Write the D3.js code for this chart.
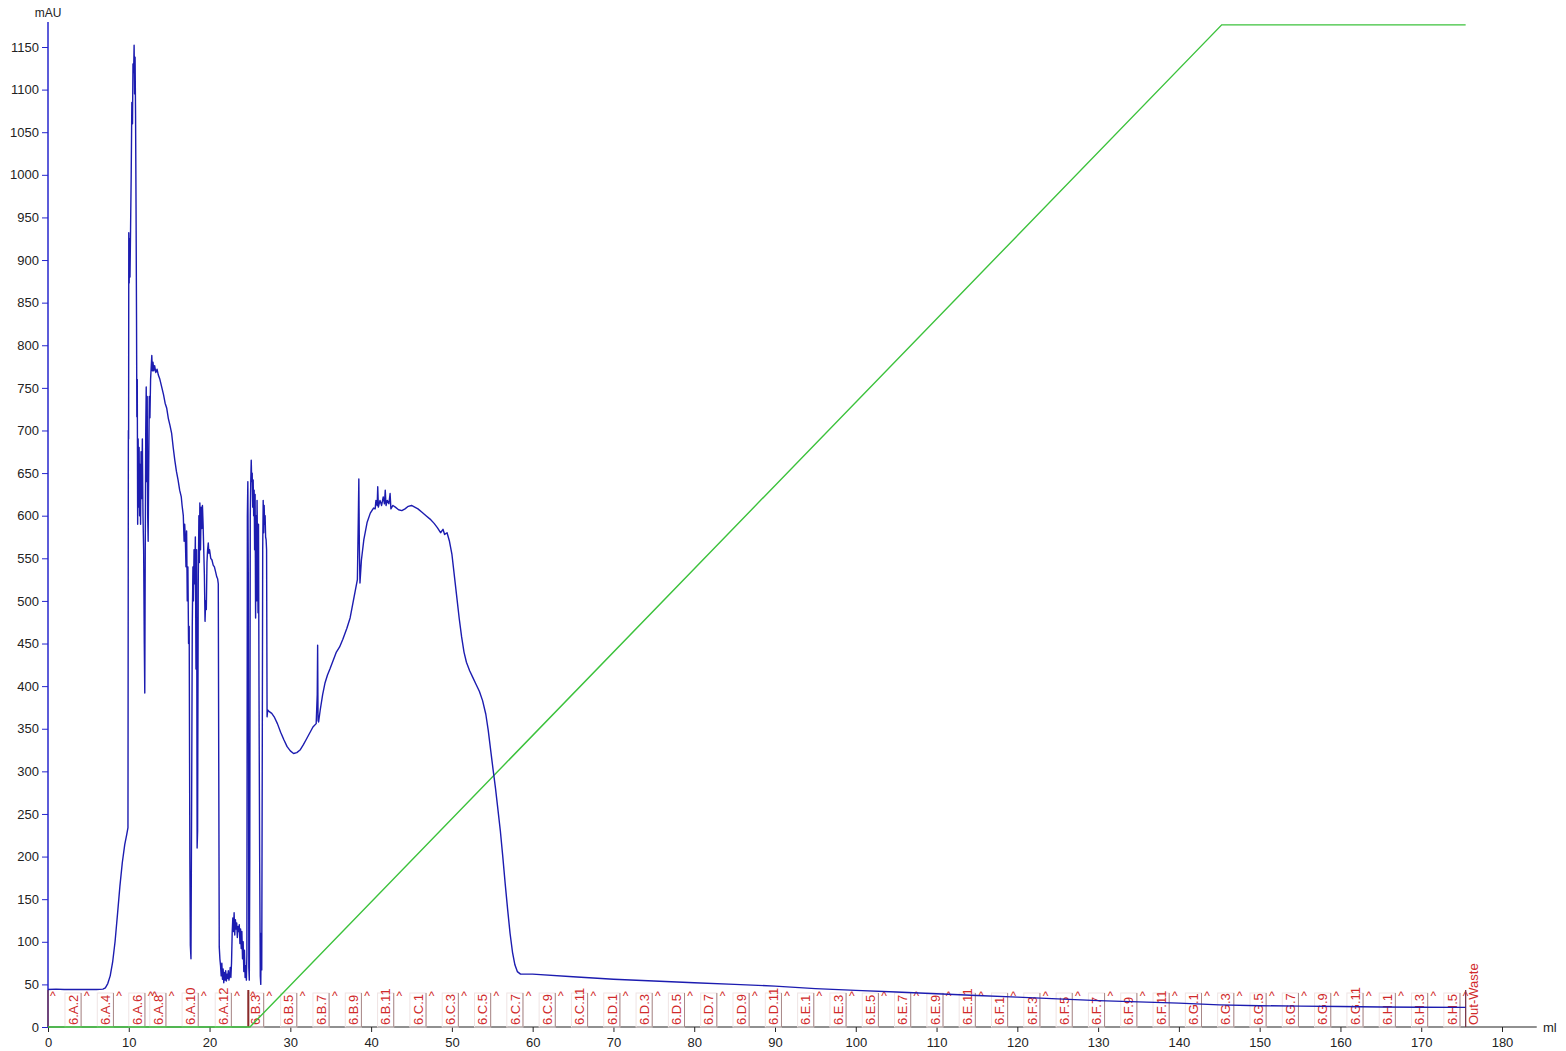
<!DOCTYPE html>
<html><head><meta charset="utf-8">
<script src="https://cdn.jsdelivr.net/npm/d3@7"></script>
<style>
body{margin:0;background:#fff;}
svg text{font-family:"Liberation Sans",Arial,sans-serif;}
</style>
</head><body>
<svg id="chart" width="1566" height="1051"></svg>
<script>
// ---- data ----
const uvTrace = [
[0,44],[1,44.5],[2,44],[3,44],[4,44],[5,44],[6,44],[6.8,44.5],[7.1,46],[7.4,51],[7.7,60],[8.0,76],[8.3,100],[8.6,132],[8.9,165],[9.2,193],[9.5,214],[9.75,226],[9.9,234],
[9.95,700],[9.98,690],[10.0,932],[10.05,873],[10.1,925],[10.15,880],[10.22,935],[10.3,1000],[10.38,1085],[10.46,1060],[10.52,1130],[10.6,1120],[10.66,1152],[10.72,1095],[10.78,1138],[10.84,1070],[10.9,960],[10.96,830],[11.0,716],[11.05,760],[11.1,590],[11.16,690],[11.22,610],[11.28,680],[11.34,600],[11.4,660],[11.46,590],[11.52,675],[11.6,620],[11.68,690],[11.76,600],[11.84,560],[11.92,450],[11.98,392],[12.04,560],[12.1,700],[12.16,751],[12.22,640],[12.28,740],[12.34,600],[12.4,570],[12.47,660],[12.54,740],[12.62,715],[12.7,760],[12.78,775],[12.85,788],[12.92,770],[13.0,780],[13.1,770],[13.2,776],[13.35,768],[13.5,772],[13.66,765],[13.85,760],[14.05,752],[14.3,742],[14.5,732],[14.7,726],[14.9,714],[15.1,706],[15.3,697],[15.5,680],[15.7,665],[15.9,652],[16.1,642],[16.3,630],[16.5,622],[16.6,612],[16.75,600],[16.85,570],[16.92,590],[17.0,575],[17.08,540],[17.16,582],[17.24,500],[17.32,540],[17.4,450],[17.48,470],[17.56,200],[17.62,96],[17.7,80],[17.78,260],[17.86,470],[17.94,540],[18.0,500],[18.08,560],[18.16,520],[18.24,575],[18.32,420],[18.4,560],[18.46,210],[18.52,230],[18.6,520],[18.68,600],[18.74,545],[18.8,615],[18.88,560],[18.96,610],[19.04,585],[19.12,612],[19.2,590],[19.28,560],[19.36,530],[19.44,476],[19.52,500],[19.6,490],[19.68,545],[19.76,560],[19.84,568],[19.92,556],[20.0,560],[20.15,550],[20.3,548],[20.45,542],[20.6,540],[20.75,534],[20.9,528],[21.0,526],[21.08,520],[21.14,300],[21.2,94],[21.28,80],[21.36,72],[21.44,60],[21.52,75],[21.6,56],[21.68,68],[21.76,52],[21.84,64],[21.92,55],[22.0,66],[22.08,54],[22.16,62],[22.24,57],[22.32,66],[22.4,55],[22.48,60],[22.56,70],[22.64,58],[22.72,75],[22.8,110],[22.88,128],[22.96,112],[23.04,134],[23.12,108],[23.2,126],[23.28,115],[23.36,122],[23.44,105],[23.52,118],[23.6,112],[23.68,120],[23.76,98],[23.84,115],[23.92,92],[24.0,112],[24.08,80],[24.16,100],[24.24,65],[24.32,90],[24.4,58],[24.5,72],[24.56,55],[24.62,85],[24.68,600],[24.74,640],[24.8,520],[24.86,70],[24.92,55],[24.98,200],[25.04,600],[25.1,640],[25.16,665],[25.22,640],[25.28,650],[25.34,610],[25.4,642],[25.46,600],[25.52,630],[25.58,560],[25.64,625],[25.7,480],[25.76,600],[25.82,500],[25.88,618],[25.94,560],[26.0,486],[26.06,590],[26.12,400],[26.2,200],[26.28,60],[26.34,50],[26.4,110],[26.46,67],[26.52,300],[26.58,560],[26.64,618],[26.7,580],[26.76,612],[26.82,590],[26.88,600],[26.94,575],[27.0,572],[27.06,560],[27.12,364],[27.2,372],[27.4,370],[27.7,368],[28.0,364],[28.4,356],[28.8,346],[29.2,337],[29.6,329],[30.0,324],[30.4,321],[30.8,322],[31.2,325],[31.6,331],[32.0,338],[32.4,345],[32.8,352],[33.2,356],[33.33,390],[33.38,448],[33.43,360],[33.5,358],[33.7,372],[34.0,390],[34.3,404],[34.6,413],[34.9,420],[35.3,430],[35.7,440],[36.1,446],[36.5,455],[37.0,468],[37.4,480],[37.8,500],[38.1,515],[38.3,525],[38.42,600],[38.48,643],[38.55,560],[38.62,521],[38.8,548],[39.1,572],[39.5,592],[39.9,603],[40.3,609],[40.5,608],[40.6,618],[40.75,612],[40.82,634],[40.9,610],[41.1,618],[41.3,612],[41.5,622],[41.65,614],[41.75,630],[41.85,612],[42.0,618],[42.2,614],[42.35,626],[42.45,608],[42.7,612],[43.0,610],[43.4,607],[43.8,606],[44.2,608],[44.6,611],[45.0,612],[45.4,610],[45.8,608],[46.3,604],[46.8,600],[47.3,596],[47.8,591],[48.2,586],[48.6,580],[48.9,584],[49.1,578],[49.4,580],[49.7,570],[50.0,555],[50.3,530],[50.6,505],[50.9,480],[51.2,458],[51.5,440],[51.8,428],[52.2,418],[52.6,410],[53.0,402],[53.4,394],[53.8,383],[54.2,367],[54.5,348],[54.8,325],[55.1,302],[55.4,280],[55.7,255],[56.0,230],[56.3,200],[56.6,168],[56.9,138],[57.2,110],[57.5,88],[57.8,73],[58.1,65],[58.5,62],[59.0,62],[60.0,62],[65,59],[70,56],[75,54],[80,52],[85,50],[90,48],[95,45],[100,43],[105,41],[110,39],[115,37],[120,35],[125,33],[130,31],[135,29.5],[140,28],[145,26],[150,25],[155,24.5],[160,24],[165,23.5],[170,23.2],[175.5,23]
];
const gradientTrace = [[0,0],[25.0,0],[145.3,100],[175.5,100]]; // %B
const gradientMaxAsMAU = 1176; // 100 %B sits at this mAU height

const fracNames = ["6.A.2","6.A.4","6.A.6","6.A.8","6.A.10","6.A.12","6.B.3","6.B.5","6.B.7","6.B.9","6.B.11",
"6.C.1","6.C.3","6.C.5","6.C.7","6.C.9","6.C.11","6.D.1","6.D.3","6.D.5","6.D.7","6.D.9","6.D.11",
"6.E.1","6.E.3","6.E.5","6.E.7","6.E.9","6.E.11","6.F.1","6.F.3","6.F.5","6.F.7","6.F.9","6.F.11",
"6.G.1","6.G.3","6.G.5","6.G.7","6.G.9","6.G.11","6.H.1","6.H.3","6.H.5"];
const fracCenters = [3.1,7.1,11.0,13.6,17.6,21.7,25.7,29.8,33.8,37.8,41.8,
45.8,49.8,53.8,57.8,61.8,65.8,69.8,73.8,77.8,81.8,85.8,89.8,
93.8,97.8,101.8,105.8,109.8,113.8,117.8,121.8,125.8,129.8,133.8,137.8,
141.8,145.8,149.8,153.8,157.8,161.8,165.8,169.8,173.8];
const extraCarets = [0.6, 13.2, 25.35];
const eventLines = [0, 24.8, 175.5];
const wasteLabel = {name:"Out-Waste", at:176.4};

const xTicks = [0,10,20,30,40,50,60,70,80,90,100,110,120,130,140,150,160,170,180];
const yTicks = [0,50,100,150,200,250,300,350,400,450,500,550,600,650,700,750,800,850,900,950,1000,1050,1100,1150];

// ---- drawing ----
const svg = d3.select("#chart");
const x = d3.scaleLinear().domain([0,180]).range([48,1502]);
const y = d3.scaleLinear().domain([0,1150]).range([1027,47]);
const yB = d3.scaleLinear().domain([0,100]).range([y(0), y(gradientMaxAsMAU)]);

const axisBlue = "#2626cc";
const fracRed = "#d02a2a";
const fmt = d3.format("d");

// y axis
const yMinor = d3.range(0, 1176, 12.5).filter(v => v % 50 !== 0);
const gy = svg.append("g").attr("transform","translate(48,0)");
gy.call(d3.axisLeft(y).tickValues(yMinor).tickSize(3).tickFormat(""));
gy.call(d3.axisLeft(y).tickValues(yTicks).tickSize(6).tickPadding(3).tickFormat(fmt));
gy.selectAll(".domain").remove();
gy.selectAll("line").attr("stroke", axisBlue);
gy.selectAll("text").attr("font-size",13).attr("fill","#222").attr("font-family","Liberation Sans, Arial, sans-serif");
gy.append("line").attr("x1",0).attr("x2",0).attr("y1",y(0)).attr("y2",22).attr("stroke",axisBlue).attr("stroke-width",1.5);
svg.append("text").attr("x",48).attr("y",17).attr("text-anchor","middle").attr("font-size",12).attr("fill","#222").text("mAU");

// x axis
const xMinor = d3.range(0, 183, 2.5).filter(v => v % 10 !== 0);
const gx = svg.append("g").attr("transform",`translate(0,${y(0)})`);
gx.call(d3.axisBottom(x).tickValues(xMinor).tickSize(3).tickFormat(""));
gx.call(d3.axisBottom(x).tickValues(xTicks).tickSize(5).tickPadding(6).tickFormat(fmt));
gx.selectAll(".domain").remove();
gx.selectAll("line").attr("stroke","#222");
gx.selectAll("text").attr("font-size",13).attr("fill","#222").attr("font-family","Liberation Sans, Arial, sans-serif");
gx.append("line").attr("x1",x(0)).attr("x2",x(184.3)).attr("y1",0).attr("y2",0).attr("stroke","#222").attr("stroke-width",1.2);
svg.append("text").attr("x",1543).attr("y",y(0)+5).attr("font-size",13).attr("fill","#222").text("ml");

// fractions
const gf = svg.append("g");
const fracTop = 993;
fracCenters.forEach((c,i) => {
  gf.append("rect").attr("x",x(c-1)).attr("y",fracTop).attr("width",x(c+1)-x(c-1)).attr("height",y(0)-fracTop)
    .attr("fill","none").attr("stroke","#efe4e4").attr("stroke-width",1);
  gf.append("line").attr("x1",x(c+1)).attr("x2",x(c+1)).attr("y1",fracTop).attr("y2",y(0))
    .attr("stroke","#a88888").attr("stroke-width",1);
  gf.append("text").attr("transform",`translate(${x(c)},1025) rotate(-90)`).attr("dy","0.36em")
    .attr("font-size",13).attr("fill",fracRed).text(fracNames[i]);
});
const caretPos = fracCenters.map(c => c + 1.7).concat(extraCarets);
caretPos.forEach(c => {
  gf.append("text").attr("x",x(c)).attr("y",1000).attr("text-anchor","middle")
    .attr("font-size",12).attr("fill",fracRed).text("^");
});
eventLines.forEach((e,i) => {
  gf.append("line").attr("x1",x(e)).attr("x2",x(e)).attr("y1",990).attr("y2",y(0))
    .attr("stroke", i===1 ? "#8a2a2a" : "#7a3a4a").attr("stroke-width", i===1 ? 2 : 1.3);
});
gf.append("text").attr("transform",`translate(${x(wasteLabel.at)},1025) rotate(-90)`).attr("dy","0.36em")
  .attr("font-size",13).attr("fill",fracRed).text(wasteLabel.name);

// curves
svg.append("path").datum(gradientTrace)
  .attr("d", d3.line().x(d=>x(d[0])).y(d=>yB(d[1])))
  .attr("fill","none").attr("stroke","#3cc23c").attr("stroke-width",1.4);
svg.append("path").datum(uvTrace)
  .attr("d", d3.line().x(d=>x(d[0])).y(d=>y(d[1])))
  .attr("fill","none").attr("stroke","#1c1cb0").attr("stroke-width",1.4).attr("stroke-linejoin","round");
</script>
</body></html>
